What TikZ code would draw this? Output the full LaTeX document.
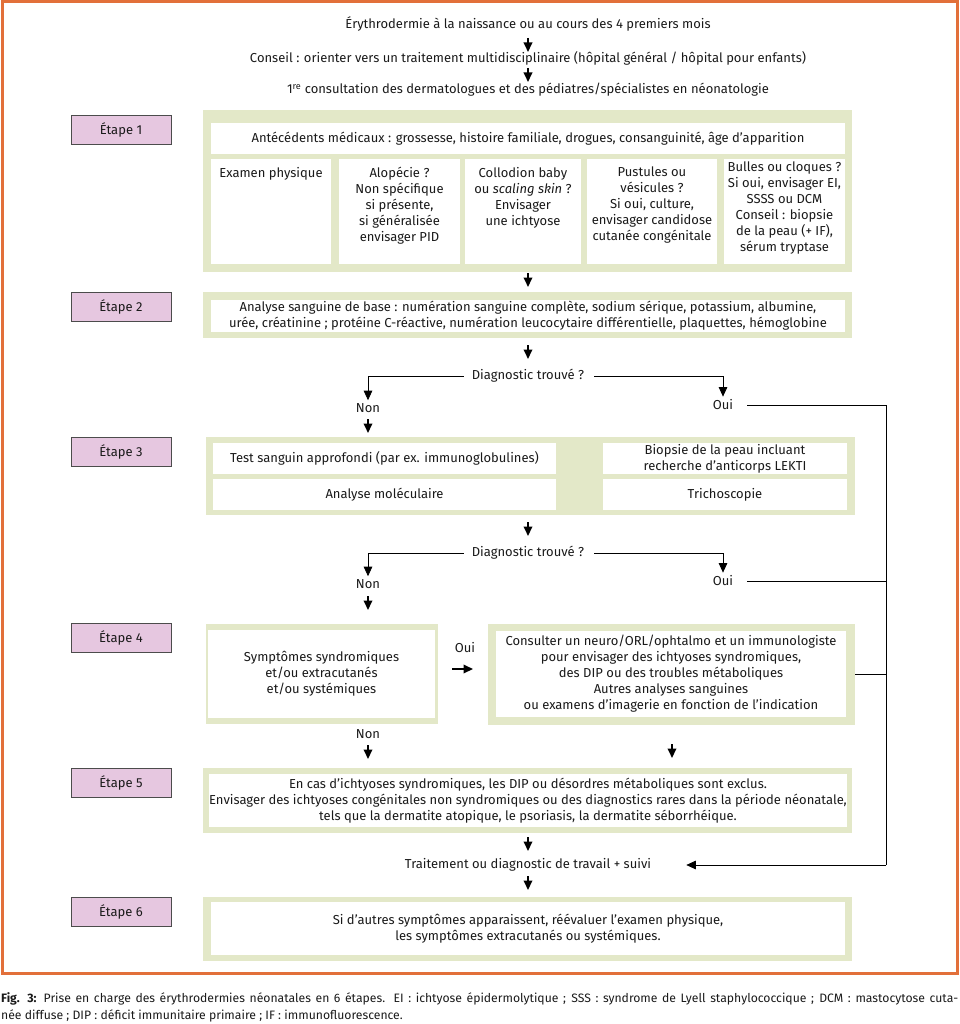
\documentclass[tikz,border=0pt]{standalone}
\usepackage{fontspec}
\setmainfont{Fira Sans}
\usetikzlibrary{arrows.meta,calc}
\definecolor{frgreen}{HTML}{E3E8C8}
\definecolor{etpink}{HTML}{E6C7E0}
\definecolor{orframe}{HTML}{E2703A}
\definecolor{txt}{HTML}{1A1A1A}
\tikzset{
  every node/.style={text=txt, font=\fontsize{13}{16}\selectfont},
  gframe/.style={fill=frgreen, draw=none, inner sep=0pt},
  wbox/.style={fill=white, draw=none, inner sep=0pt, align=center},
  etape/.style={fill=etpink, draw=black!70, line width=0.9pt, minimum width=100pt, minimum height=29pt, inner sep=0pt},
  lbl/.style={inner sep=2pt, align=center},
  arr/.style={line width=1.9pt, -{Triangle[length=9.5pt,width=8.5pt]}, shorten >=1pt},
  thin/.style={line width=0.8pt},
  tharr/.style={line width=0.8pt, -{Triangle[length=9.5pt,width=8.5pt]}},
}
\begin{document}
\begin{tikzpicture}[x=1pt,y=-1pt]
\useasboundingbox (0,0) rectangle (959,1024);
\draw[orframe, line width=3pt] (2,2) rectangle (957,973);

% top texts
\node[lbl] (t1) at (528,24) {Érythrodermie à la naissance ou au cours des 4 premiers mois};
\node[lbl] (t2) at (528,58) {Conseil : orienter vers un traitement multidisciplinaire (hôpital général / hôpital pour enfants)};
\node[lbl] (t3) at (528,90) {1\textsuperscript{re} consultation des dermatologues et des pédiatres/spécialistes en néonatologie};
\draw[arr] (528,38) -- (528,53);
\draw[arr] (528,68) -- (528,83);

% etapes
\node[etape] (e1) at (121,129.5) {Étape 1};
\node[etape] (e2) at (121,306.5) {Étape 2};
\node[etape] (e3) at (121,451.5) {Étape 3};
\node[etape] (e4) at (121,637.5) {Étape 4};
\node[etape] (e5) at (121,782.5) {Étape 5};
\node[etape] (e6) at (121,911.5) {Étape 6};

% step 1
\node[gframe, minimum width=649pt, minimum height=162pt] (f1) at (527.5,191) {};
\node[wbox, minimum width=634pt, minimum height=31pt] (a1) at (528,138.5) {Antécédents médicaux : grossesse, histoire familiale, drogues, consanguinité, âge d'apparition};
\node[wbox, minimum width=120pt, minimum height=105pt] (b1) at (271,211.5) {};
\node[wbox, minimum width=121pt, minimum height=105pt] (b2) at (399.5,211.5) {};
\node[wbox, minimum width=116pt, minimum height=105pt] (b3) at (523,211.5) {};
\node[wbox, minimum width=130pt, minimum height=105pt] (b4) at (652,211.5) {};
\node[wbox, minimum width=121pt, minimum height=105pt] (b5) at (784.5,211.5) {};
\node[lbl, anchor=north] (b1t) at (271,165) {Examen physique};
\node[lbl, anchor=north] (b2t) at (399.5,165) {Alopécie ?\\Non spécifique\\si présente,\\si généralisée\\envisager PID};
\node[lbl, anchor=north] (b3t) at (523,165) {Collodion baby\\ou \textit{scaling skin} ?\\Envisager\\une ichtyose};
\node[lbl, anchor=north] (b4t) at (652,165) {Pustules ou\\vésicules ?\\Si oui, culture,\\envisager candidose\\cutanée congénitale};
\node[lbl, anchor=north] (b5t) at (784.5,160) {Bulles ou cloques ?\\Si oui, envisager EI,\\SSSS ou DCM\\Conseil : biopsie\\de la peau (+ IF),\\sérum tryptase};

% step 2
\node[gframe, minimum width=649pt, minimum height=46pt] (f2) at (527.5,315) {};
\node[wbox, minimum width=634pt, minimum height=32pt] (a2) at (528,316) {Analyse sanguine de base : numération sanguine complète, sodium sérique, potassium, albumine,\\urée, créatinine ; protéine C-réactive, numération leucocytaire différentielle, plaquettes, hémoglobine};
\draw[arr] (528,273) -- (528,288);

% diag 1
\node[lbl] (d1) at (528,376) {Diagnostic trouvé ?};
\node[lbl] (n1) at (368,408) {Non};
\node[lbl] (o1) at (723,405) {Oui};
\draw[arr] (528,345) -- (528,360);
\draw[tharr] (d1.west) ++(-6,0) -| ($(n1.north)+(0,-1)$);
\draw[tharr] (d1.east) ++(8,0) -| ($(o1.north)+(0,-1)$);

% step 3
\node[gframe, minimum width=649pt, minimum height=78pt] (f3) at (530.5,476) {};
\node[wbox, minimum width=343pt, minimum height=31pt] (c1) at (384.5,458.5) {Test sanguin approfondi (par ex. immunoglobulines)};
\node[wbox, minimum width=343pt, minimum height=31pt] (c2) at (384.5,494.5) {Analyse moléculaire};
\node[wbox, minimum width=244pt, minimum height=31pt] (c3) at (725,458.5) {Biopsie de la peau incluant\\recherche d'anticorps LEKTI};
\node[wbox, minimum width=244pt, minimum height=31pt] (c4) at (725,494.5) {Trichoscopie};
\draw[arr] (368,419) -- (368,434);

% diag 2
\node[lbl] (d2) at (528,553) {Diagnostic trouvé ?};
\node[lbl] (n2) at (368,584) {Non};
\node[lbl] (o2) at (723,581) {Oui};
\draw[arr] (528,522) -- (528,537);
\draw[tharr] (d2.west) ++(-6,0) -| ($(n2.north)+(0,-1)$);
\draw[tharr] (d2.east) ++(8,0) -| ($(o2.north)+(0,-1)$);
\draw[arr] (368,596) -- (368,611);

% step 4
\node[gframe, minimum width=232pt, minimum height=100pt] (f4a) at (322,674) {};
\node[wbox, minimum width=227pt, minimum height=88pt] (g1) at (321.5,674) {Symptômes syndromiques\\et/ou extracutanés\\et/ou systémiques};
\node[gframe, minimum width=367pt, minimum height=101pt] (f4b) at (671.5,674.5) {};
\node[wbox, minimum width=350pt, minimum height=86pt] (g2) at (671,674) {Consulter un neuro/ORL/ophtalmo et un immunologiste\\pour envisager des ichtyoses syndromiques,\\des DIP ou des troubles métaboliques\\Autres analyses sanguines\\ou examens d'imagerie en fonction de l'indication};
\node[lbl] (o3) at (465,648) {Oui};
\draw[arr] (452,669) -- (474,669);
\node[lbl] (n3) at (368,734) {Non};
\draw[arr] (368,745) -- (368,760);
\draw[arr] (672,744) -- (672,759);

% step 5
\node[gframe, minimum width=649pt, minimum height=65pt] (f5) at (527.5,800.5) {};
\node[wbox, minimum width=634pt, minimum height=53pt] (h5) at (528,800.5) {En cas d'ichtyoses syndromiques, les DIP ou désordres métaboliques sont exclus.\\Envisager des ichtyoses congénitales non syndromiques ou des diagnostics rares dans la période néonatale,\\tels que la dermatite atopique, le psoriasis, la dermatite séborrhéique.};

\node[lbl] (tr) at (528,865) {Traitement ou diagnostic de travail + suivi};
\draw[arr] (528,837) -- (528,852);
\draw[arr] (528,876) -- (528,891);

% step 6
\node[gframe, minimum width=649pt, minimum height=64pt] (f6) at (527.5,929) {};
\node[wbox, minimum width=634pt, minimum height=53pt] (h6) at (528,928.5) {Si d'autres symptômes apparaissent, réévaluer l'examen physique,\\les symptômes extracutanés ou systémiques.};

% rail
\coordinate (rtop) at (886,0);
\coordinate (r4) at (886,865);
\draw[thin] ($(o1.east)+(12,0)$) -- (o1.east -| rtop) -- (r4);
\draw[thin] ($(o2.east)+(12,0)$) -- (o2.east -| rtop);
\draw[thin] (f4b.east) -- (f4b.east -| rtop);
\draw[tharr] (r4) -- ($(tr.east)+(33,0)$);

% caption
\node[anchor=north west, inner sep=0pt, text width=957pt, align=justify, font=\fontsize{12.2}{17}\selectfont] (cap) at (1,992) {\textbf{Fig. 3:} Prise en charge des érythrodermies néonatales en 6 étapes. EI : ichtyose épidermolytique ; SSS : syndrome de Lyell staphylococcique ; DCM : mastocytose cuta-\linebreak née diffuse ; DIP : déficit immunitaire primaire ; IF : immunofluorescence.};
\end{tikzpicture}
\end{document}
